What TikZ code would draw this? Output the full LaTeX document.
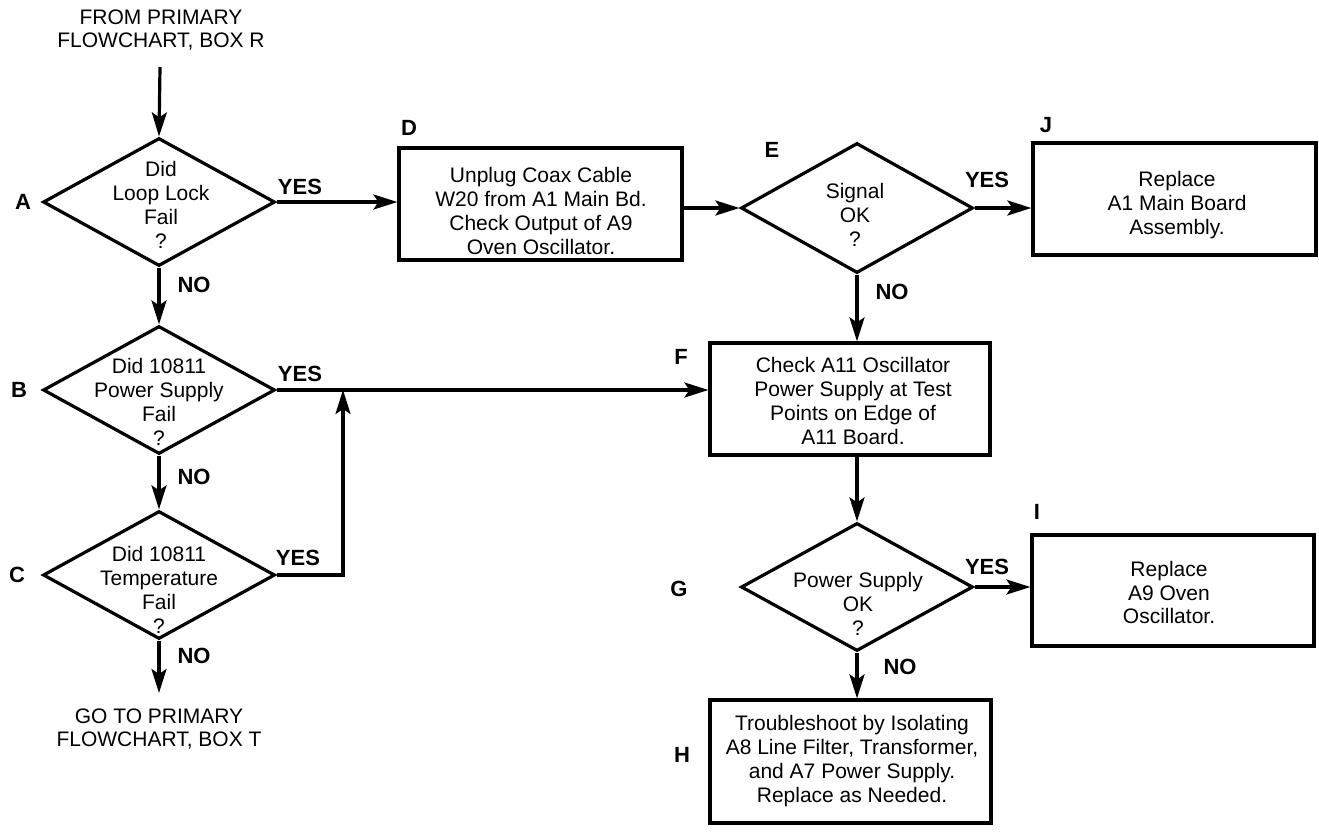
\documentclass[tikz,border=0pt]{standalone}
\usepackage{fontspec}
\setmainfont{Liberation Sans}
\usetikzlibrary{shapes.geometric,arrows.meta,calc}
\begin{document}
\begin{tikzpicture}[x=1pt,y=-1pt,
  every node/.style={font=\fontsize{21}{23.8}\selectfont},
  shapebox/.style={draw, line width=3.2pt, rectangle, inner sep=0pt},
  dia/.style={draw, line width=3.2pt, diamond, inner sep=0pt, minimum width=232pt, minimum height=128pt},
  txt/.style={align=center, inner sep=0pt},
  lbl/.style={font=\fontsize{22}{24}\selectfont\bfseries, inner sep=0pt},
  arr/.style={line width=3.2pt, -{Stealth[length=24pt,width=15pt,inset=5pt]}}
]
\useasboundingbox (0,0) rectangle (1319,833);

% decision diamonds
\node[dia] (A) at (159,202) {};
\node[txt] (At) at (161,205) {Did\\Loop Lock\\Fail\\?};
\node[dia] (B) at (159,390) {};
\node[txt] (Bt) at (159,402) {Did 10811\\Power Supply\\Fail\\?};
\node[dia] (C) at (159,575) {};
\node[txt] (Ct) at (159,590) {Did 10811\\Temperature\\Fail\\?};
\node[dia, minimum height=130pt] (E) at (857,208) {};
\node[txt] (Et) at (855,215) {Signal\\OK\\?};
\node[dia] (G) at (857,587) {};
\node[txt] (Gt) at (858,604) {Power Supply\\OK\\?};

% action boxes
\node[shapebox, minimum width=283pt, minimum height=112pt] (D) at (540.5,204) {};
\node[txt] (Dt) at (541,211) {Unplug Coax Cable\\W20 from A1 Main Bd.\\Check Output of A9\\Oven Oscillator.};
\node[shapebox, minimum width=283pt, minimum height=112pt] (J) at (1174.5,199) {};
\node[txt] (Jt) at (1177,205) {Replace\\A1 Main Board\\Assembly.};
\node[shapebox, minimum width=280pt, minimum height=112pt] (F) at (850,399) {};
\node[txt] (Ft) at (853,401) {Check A11 Oscillator\\Power Supply at Test\\Points on Edge of\\A11 Board.};
\node[shapebox, minimum width=282pt, minimum height=111pt] (I) at (1173,590.5) {};
\node[txt] (It) at (1169,592.5) {Replace\\A9 Oven\\Oscillator.};
\node[shapebox, minimum width=281pt, minimum height=123pt] (H) at (850.5,761.5) {};
\node[txt] (Ht) at (852,761) {Troubleshoot by Isolating\\A8 Line Filter, Transformer,\\and A7 Power Supply.\\Replace as Needed.};

% entry / exit texts
\node[txt] (src) at (161,30) {FROM PRIMARY\\FLOWCHART, BOX R};
\node[txt] (dst) at (159,729) {GO TO PRIMARY\\FLOWCHART, BOX T};
\coordinate (s0) at (160,67);
\coordinate (e0) at (159,693);
\coordinate (m) at (343,390);

% connectors
\draw[arr] (s0) -- (A.north);
\draw[arr] (A.east) -- (A.east -| D.west);
\draw[arr] (A.south) -- (B.north);
\draw[arr] (B.south) -- (C.north);
\draw[arr] (C.south) -- (e0);
\draw[arr] (B.east) -- (B.east -| F.west);
\draw[arr] (C.east) -| (m);
\draw[arr] (E.west -| D.east) -- (E.west);
\draw[arr] (E.east) -- (E.east -| J.west);
\draw[arr] (E.south) -- (E.south |- F.north);
\draw[arr] (G.north |- F.south) -- (G.north);
\draw[arr] (G.east) -- (G.east -| I.west);
\draw[arr] (G.south) -- (G.south |- H.north);

% labels
\node[lbl] (yA) at (300,187) {YES};
\node[lbl] (nA) at (194,285) {NO};
\node[lbl] (lA) at (23,202) {A};
\node[lbl] (yB) at (300,374) {YES};
\node[lbl] (nB) at (194,477) {NO};
\node[lbl] (lB) at (19,390) {B};
\node[lbl] (yC) at (298,558) {YES};
\node[lbl] (nC) at (194,656) {NO};
\node[lbl] (lC) at (17,575) {C};
\node[lbl] (lD) at (409,128) {D};
\node[lbl] (lE) at (772,150) {E};
\node[lbl] (yE) at (987,180) {YES};
\node[lbl] (nE) at (892,292) {NO};
\node[lbl] (lJ) at (1046,125) {J};
\node[lbl] (lF) at (681,357) {F};
\node[lbl] (lG) at (679,589) {G};
\node[lbl] (yG) at (987,567) {YES};
\node[lbl] (lI) at (1037,512) {I};
\node[lbl] (nG) at (900,667) {NO};
\node[lbl] (lH) at (682,755) {H};
\end{tikzpicture}
\end{document}
